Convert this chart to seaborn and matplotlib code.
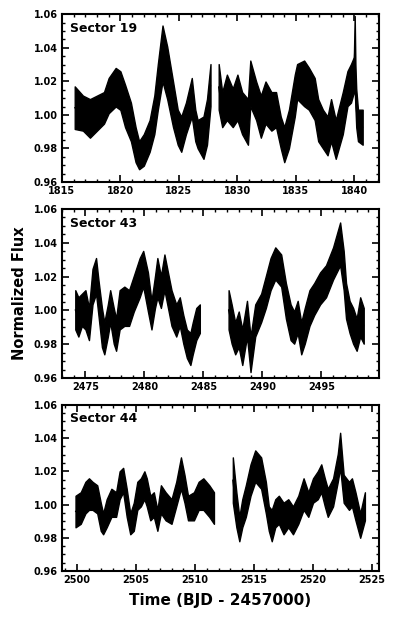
import numpy as np
import pandas as pd
import matplotlib
matplotlib.use("Agg")
import matplotlib.pyplot as plt
import seaborn as sns
from matplotlib.ticker import MultipleLocator, FormatStrFormatter

sns.set_theme(style="ticks")
plt.rcParams['font.family'] = ['DejaVu Sans']
plt.rcParams['font.weight'] = 'bold'
plt.rcParams['text.color'] = 'black'
plt.rcParams['axes.labelcolor'] = 'black'
plt.rcParams['xtick.color'] = 'black'
plt.rcParams['ytick.color'] = 'black'

# ---------------- data (time, lower envelope, upper envelope) ----------------
s19a_t = [1816.1, 1816.8, 1817.4, 1818.0, 1818.6, 1819.0, 1819.6, 1820.0, 1820.4, 1820.9,
          1821.3, 1821.6, 1822.0, 1822.5, 1822.9, 1823.2, 1823.6, 1824.0, 1824.5, 1824.9,
          1825.2, 1825.6, 1826.1, 1826.4, 1826.6, 1827.1, 1827.4, 1827.7]
s19a_hi = [1.017, 1.0115, 1.0094, 1.0115, 1.0136, 1.022, 1.028, 1.026, 1.018, 1.0073,
           0.9927, 0.9843, 0.9885, 0.9969, 1.0115, 1.0303, 1.0533, 1.0408, 1.0199, 1.0031,
           0.999, 1.0073, 1.022, 1.0031, 0.9969, 0.999, 1.0094, 1.0303]
s19a_lo = [0.9916, 0.9906, 0.9864, 0.9906, 0.9948, 1.001, 1.005, 1.003, 0.9927, 0.9843,
           0.9718, 0.9676, 0.9697, 0.978, 0.9885, 1.0031, 1.0199, 1.0094, 0.9927, 0.9822,
           0.978, 0.9885, 0.999, 0.9843, 0.9801, 0.9738, 0.9822, 1.0052]

s19b_t = [1828.4, 1828.7, 1829.1, 1829.6, 1830.0, 1830.4, 1830.9, 1831.1, 1831.6, 1832.0,
          1832.4, 1832.9, 1833.3, 1833.7, 1834.0, 1834.4, 1834.9, 1835.1, 1835.7, 1836.1,
          1836.6, 1836.9, 1837.3, 1837.7, 1838.0, 1838.4, 1839.0, 1839.4, 1839.7, 1839.95,
          1840.02, 1840.08, 1840.15, 1840.3, 1840.7]
s19b_hi = [1.0303, 1.0136, 1.024, 1.0157, 1.024, 1.0136, 1.0094, 1.0324, 1.0199, 1.0115,
           1.0199, 1.0136, 1.0136, 0.999, 0.9927, 1.0031, 1.024, 1.0303, 1.0324, 1.0282,
           1.022, 1.0094, 1.0031, 0.999, 1.0094, 0.9969, 1.0136, 1.0261, 1.0303, 1.0345,
           1.059, 1.030, 1.0157, 1.0031, 1.0031]
s19b_lo = [1.0031, 0.9927, 0.9969, 0.9927, 0.9969, 0.9885, 0.9822, 1.0052, 0.9969, 0.9864,
           0.9948, 0.9906, 0.9927, 0.9801, 0.9718, 0.9801, 0.999, 1.0094, 1.0052, 1.0031,
           0.9969, 0.9843, 0.9801, 0.9759, 0.9843, 0.9738, 0.9885, 1.0052, 1.0073, 1.0136,
           1.015, 1.005, 0.9927, 0.9843, 0.9822]

s43a_t = [2474.14, 2474.4, 2474.7, 2475.0, 2475.3, 2475.6, 2475.9, 2476.1, 2476.4, 2476.6,
          2476.9, 2477.1, 2477.4, 2477.6, 2477.9, 2478.3, 2478.7, 2479.1, 2479.6, 2479.9,
          2480.3, 2480.6, 2480.9, 2481.1, 2481.4, 2481.7, 2482.0, 2482.3, 2482.7, 2483.0,
          2483.3, 2483.6, 2483.9, 2484.1, 2484.4, 2484.7]
s43a_hi = [1.012, 1.0078, 1.0099, 1.012, 1.0015, 1.0246, 1.031, 1.0183, 1.0015, 0.993,
           1.0036, 1.012, 1.0015, 0.9952, 1.012, 1.0141, 1.012, 1.0204, 1.031, 1.0352,
           1.0225, 1.0057, 1.0204, 1.031, 1.0204, 1.0331, 1.0225, 1.012, 1.0036, 1.0078,
           0.9973, 0.9888, 0.9867, 0.993, 1.0015, 1.0036]
s43a_lo = [0.9888, 0.9846, 0.9909, 0.9888, 0.9825, 1.0036, 1.0099, 0.9973, 0.9783, 0.9741,
           0.9846, 0.9931, 0.9804, 0.9762, 0.9888, 0.9909, 0.9909, 0.9994, 1.0078, 1.0141,
           0.9994, 0.9888, 1.0015, 1.0078, 1.0015, 1.012, 1.0015, 0.9909, 0.9846, 0.9909,
           0.9804, 0.972, 0.9678, 0.9741, 0.9825, 0.9867]

s43b_t = [2487.14, 2487.4, 2487.7, 2488.0, 2488.3, 2488.7, 2489.0, 2489.4, 2489.9, 2490.3,
          2490.7, 2491.1, 2491.6, 2492.0, 2492.4, 2492.7, 2493.0, 2493.3, 2493.6, 2494.0,
          2494.4, 2494.9, 2495.4, 2496.0, 2496.6, 2496.9, 2497.1, 2497.4, 2497.7, 2498.0,
          2498.3, 2498.6]
s43b_hi = [1.012, 1.0036, 0.993, 0.9994, 0.9888, 1.0057, 0.9846, 1.0036, 1.0099, 1.0204,
           1.031, 1.0373, 1.0331, 1.0162, 1.0036, 0.9994, 1.0057, 0.993, 1.0015, 1.012,
           1.0162, 1.0225, 1.0267, 1.0373, 1.052, 1.0352, 1.0162, 1.0057, 1.0015, 0.9952,
           1.0078, 1.0015]
s43b_lo = [0.9888, 0.9804, 0.9741, 0.9783, 0.9678, 0.9846, 0.9636, 0.9846, 0.9931, 1.0015,
           1.012, 1.0183, 1.0141, 0.9952, 0.9825, 0.9804, 0.9867, 0.9741, 0.9804, 0.9909,
           0.9973, 1.0036, 1.0078, 1.0183, 1.0267, 1.012, 0.9952, 0.9867, 0.9804, 0.9762,
           0.9846, 0.9804]

s44a_t = [2499.86, 2500.3, 2500.7, 2501.0, 2501.3, 2501.7, 2502.0, 2502.2, 2502.5, 2502.9,
          2503.3, 2503.6, 2503.9, 2504.2, 2504.5, 2504.8, 2505.1, 2505.4, 2505.7, 2505.9,
          2506.2, 2506.5, 2506.8, 2507.1, 2507.5, 2508.0, 2508.4, 2508.8, 2509.1, 2509.4,
          2509.9, 2510.3, 2510.7, 2511.2, 2511.6]
s44a_hi = [1.0053, 1.0074, 1.0137, 1.0158, 1.0137, 1.0116, 1.0011, 0.9947, 1.0032, 1.0095,
           1.0074, 1.02, 1.0221, 1.0095, 0.9947, 1.0011, 1.0137, 1.0158, 1.02, 1.0158,
           1.0053, 1.0074, 0.9968, 1.0116, 1.0074, 1.0032, 1.0137, 1.0284, 1.0179, 1.0053,
           1.0074, 1.0137, 1.0158, 1.0116, 1.0074]
s44a_lo = [0.9863, 0.9884, 0.9947, 0.9968, 0.9968, 0.9947, 0.9842, 0.9821, 0.9863, 0.9926,
           0.9926, 1.0032, 1.0074, 0.9926, 0.9821, 0.9842, 0.9968, 0.9989, 1.0032, 0.9989,
           0.9905, 0.9926, 0.9842, 0.9947, 0.9905, 0.9884, 0.9989, 1.0095, 1.0011, 0.9905,
           0.9905, 0.9968, 0.9968, 0.9926, 0.9884]

s44b_t = [2513.2, 2513.5, 2513.75, 2514.0, 2514.3, 2514.7, 2515.1, 2515.6, 2516.0, 2516.25,
          2516.5, 2516.8, 2517.1, 2517.5, 2517.9, 2518.3, 2518.75, 2519.2, 2519.6, 2520.0,
          2520.4, 2520.7, 2521.0, 2521.25, 2521.7, 2522.1, 2522.3, 2522.6, 2523.05, 2523.3,
          2523.6, 2524.0, 2524.4]
s44b_hi = [1.0284, 1.0074, 0.9926, 1.0032, 1.0116, 1.0242, 1.0326, 1.0284, 1.0137, 0.9989,
           0.9968, 1.0032, 1.0053, 1.0011, 1.0032, 0.9989, 1.0053, 1.0158, 1.0074, 1.0158,
           1.02, 1.0242, 1.0158, 1.0095, 1.0158, 1.0305, 1.0432, 1.0179, 1.0137, 1.0158,
           1.0074, 0.9947, 1.0074]
s44b_lo = [1.0011, 0.9863, 0.9779, 0.9863, 0.9926, 1.0053, 1.0137, 1.0095, 0.9947, 0.9842,
           0.9779, 0.9863, 0.9884, 0.9821, 0.9863, 0.9821, 0.9884, 0.9968, 0.9926, 1.0011,
           1.0032, 1.0074, 0.9989, 0.9926, 0.9989, 1.0137, 1.0221, 1.0011, 0.9968, 0.9989,
           0.9905, 0.98, 0.9905]

sector_names = ["Sector 19", "Sector 43", "Sector 44"]
xlims = [(1815, 1842.1), (2473.0, 2499.9), (2498.7, 2525.6)]
ylim = (0.96, 1.06)

segments = [
    [(s19a_t, s19a_lo, s19a_hi), (s19b_t, s19b_lo, s19b_hi)],
    [(s43a_t, s43a_lo, s43a_hi), (s43b_t, s43b_lo, s43b_hi)],
    [(s44a_t, s44a_lo, s44a_hi), (s44b_t, s44b_lo, s44b_hi)],
]

# ---------------- figure ----------------
fig = plt.figure(figsize=(3.99, 6.2), dpi=100)
positions = [
    [0.155, 0.7065, 0.795, 0.2705],
    [0.155, 0.390, 0.795, 0.273],
    [0.155, 0.079, 0.795, 0.268],
]

for i, pos in enumerate(positions):
    ax = fig.add_axes(pos)
    for t, lo, hi in segments[i]:
        df = pd.DataFrame({
            "time": list(t) + list(t),
            "flux": list(lo) + list(hi),
        })
        sns.lineplot(data=df, x="time", y="flux", ax=ax, color="black",
                     estimator="mean", errorbar=("pi", 100), linewidth=1.0,
                     err_kws={"alpha": 1.0, "edgecolor": "black", "linewidth": 1.0})
    ax.set_xlim(*xlims[i])
    ax.set_ylim(*ylim)
    ax.set_xlabel("")
    ax.set_ylabel("")
    ax.xaxis.set_major_locator(MultipleLocator(5))
    ax.xaxis.set_minor_locator(MultipleLocator(1))
    ax.yaxis.set_major_locator(MultipleLocator(0.02))
    ax.yaxis.set_minor_locator(MultipleLocator(0.005))
    ax.yaxis.set_major_formatter(FormatStrFormatter("%.2f"))
    ax.tick_params(which="both", direction="in", top=True, right=True,
                   labelsize=7, width=1.2, colors="black", pad=3)
    ax.tick_params(which="major", length=5)
    ax.tick_params(which="minor", length=2.5, width=1.0)
    for lab in ax.get_xticklabels() + ax.get_yticklabels():
        lab.set_fontweight("bold")
        lab.set_color("black")
    for sp in ax.spines.values():
        sp.set_linewidth(1.5)
        sp.set_color("black")
    ax.text(0.027, 0.955, sector_names[i], transform=ax.transAxes, ha="left", va="top",
            fontsize=9, fontweight="bold", color="black")

fig.text(0.552, 0.031, "Time (BJD - 2457000)", ha="center", va="center",
         fontsize=11, fontweight="bold", color="black")
fig.text(0.048, 0.527, "Normalized Flux", ha="center", va="center", rotation=90,
         fontsize=10.5, fontweight="bold", color="black")

fig.savefig("out.png", dpi=100)
